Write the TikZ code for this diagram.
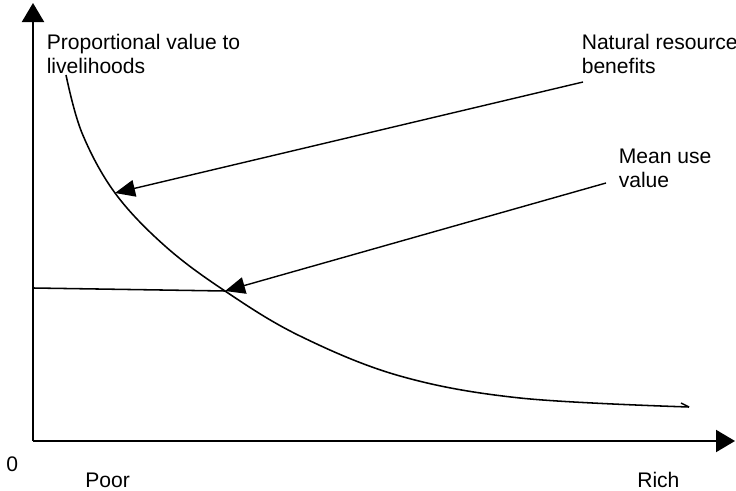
\documentclass[tikz,border=0pt]{standalone}
\usepackage{fontspec}
\setmainfont{Liberation Sans}
\usetikzlibrary{positioning, calc, arrows.meta}

\begin{document}
\begin{tikzpicture}[
        x=0.025cm, y=-0.025cm,
        txt/.style={inner sep=0pt, align=left, font=\fontsize{15}{17.2}\selectfont},
        axis/.style={-{Triangle[length=0.475cm, width=0.55cm]}, line width=1.4pt},
        curve/.style={line width=1.1pt},
        arrow/.style={-{Triangle[length=0.5cm, width=0.42cm]}, line width=1pt}
    ]
        \useasboundingbox (0,0) rectangle (736,491);

        % axes
        \coordinate (O) at (33,441);
        \coordinate (ytop) at (33,3);
        \coordinate (xend) at (735,441);
        \draw[axis] (O) -- (ytop);
        \draw[axis] (O) -- (xend);

        \node[txt, anchor=base west] (zero) at (6,471) {0};
        \node[txt, anchor=base west] (poor) at (85,487) {Poor};
        \node[txt, anchor=base west] (rich) at (637,487) {Rich};

        % labels
        \node[txt, anchor=north west] (prop) at (46.5,33.8) {Proportional value to\\livelihoods};
        \node[txt, anchor=north west] (nrb) at (581.5,33.8) {Natural resource\\benefits};
        \node[txt, anchor=north west] (muv) at (618.5,149) {Mean use\\value};

        % benefit curve
        \coordinate (hitNR) at (115,193);
        \coordinate (hitMU) at (225,291);
        \draw[curve] plot[smooth, tension=0.6] coordinates {(66,75) (82,133) (hitNR) (165,246) (hitMU) (300,336) (400,376) (520,398) (689,407)};
        \draw[curve] (689,407) -- (681,403);

        % mean use line
        \coordinate (meanL) at (33,288);
        \draw[curve] (meanL) -- (hitMU);

        % pointers
        \coordinate (fromNR) at (583,82);
        \coordinate (fromMU) at (606,183);
        \draw[arrow] (fromNR) -- (hitNR);
        \draw[arrow] (fromMU) -- (hitMU);
    \end{tikzpicture}
\end{document}
